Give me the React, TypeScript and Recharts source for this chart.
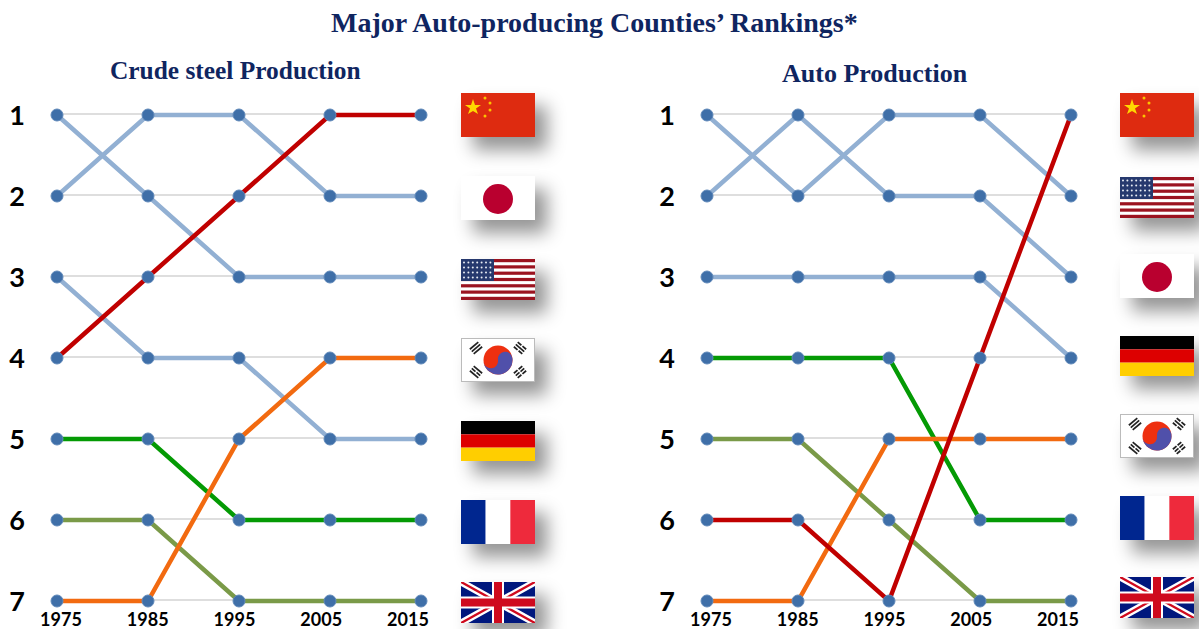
import { Line, LineChart, ReferenceLine, XAxis, YAxis } from 'recharts';

const years = ['1975', '1985', '1995', '2005', '2015'];
const rankTicks = [1, 2, 3, 4, 5, 6, 7];

const BLUE = '#92b0d3';
const RED = '#c00000';
const ORANGE = '#f26a10';
const GREEN = '#049a04';
const OLIVE = '#7a9a48';

// Crude steel ranks
const steelUsa = [1, 2, 3, 3, 3];
const steelJapan = [2, 1, 1, 2, 2];
const steelGermany = [3, 4, 4, 5, 5];
const steelChina = [4, 3, 2, 1, 1];
const steelFrance = [5, 5, 6, 6, 6];
const steelUk = [6, 6, 7, 7, 7];
const steelKorea = [7, 7, 5, 4, 4];

// Auto ranks
const autoUsa = [1, 2, 1, 1, 2];
const autoJapan = [2, 1, 2, 2, 3];
const autoGermany = [3, 3, 3, 3, 4];
const autoFrance = [4, 4, 4, 6, 6];
const autoUk = [5, 5, 6, 7, 7];
const autoChina = [6, 6, 7, 4, 1];
const autoKorea = [7, 7, 5, 5, 5];

const steelSeries = [
  { name: 'USA', ranks: steelUsa, color: BLUE },
  { name: 'Japan', ranks: steelJapan, color: BLUE },
  { name: 'Germany', ranks: steelGermany, color: BLUE },
  { name: 'France', ranks: steelFrance, color: GREEN },
  { name: 'UK', ranks: steelUk, color: OLIVE },
  { name: 'Korea', ranks: steelKorea, color: ORANGE },
  { name: 'China', ranks: steelChina, color: RED },
];

const autoSeries = [
  { name: 'USA', ranks: autoUsa, color: BLUE },
  { name: 'Japan', ranks: autoJapan, color: BLUE },
  { name: 'Germany', ranks: autoGermany, color: BLUE },
  { name: 'France', ranks: autoFrance, color: GREEN },
  { name: 'UK', ranks: autoUk, color: OLIVE },
  { name: 'Korea', ranks: autoKorea, color: ORANGE },
  { name: 'China', ranks: autoChina, color: RED },
];

const toRows = (series: typeof steelSeries) =>
  years.map((year, i) => {
    const row: Record<string, string | number> = { year };
    series.forEach((s) => {
      row[s.name] = s.ranks[i];
    });
    return row;
  });

const RankChart = ({ series, left }: { series: typeof steelSeries; left: number }) => (
  <div style={{ position: 'absolute', left, top: 0 }}>
    <LineChart width={441} height={629} data={toRows(series)} margin={{ top: 114, right: 20, bottom: 0, left: 0 }}>
      <YAxis
        yAxisId="rank"
        reversed
        type="number"
        domain={[1, 7]}
        ticks={rankTicks}
        interval={0}
        width={57}
        axisLine={false}
        tickLine={false}
        tickSize={0}
        tickMargin={32}
        padding={{ top: 1, bottom: 1 }}
        tick={{ fill: '#000', fontFamily: 'Lato', fontWeight: 700, fontSize: 27 }}
      />
      {/* grid rows sit a pixel above the markers in the original */}
      <YAxis
        yAxisId="grid"
        hide
        width={0}
        reversed
        type="number"
        domain={[1, 7]}
        ticks={rankTicks}
        padding={{ top: 0, bottom: 2 }}
      />
      <XAxis xAxisId="pts" dataKey="year" hide height={0} padding={{ left: 0, right: 0 }} />
      <XAxis
        xAxisId="labels"
        dataKey="year"
        height={27}
        axisLine={false}
        tickLine={false}
        tickSize={0}
        tickMargin={11}
        interval={0}
        padding={{ left: 4, right: 13 }}
        tick={{ fill: '#000', fontFamily: 'Lato', fontWeight: 700, fontSize: 18 }}
      />
      {/* keeps the grid axis live so its scale resolves */}
      <Line
        xAxisId="pts"
        yAxisId="grid"
        dataKey={series[0].name}
        stroke="none"
        dot={false}
        activeDot={false}
        isAnimationActive={false}
      />
      {rankTicks.map((r) => (
        <ReferenceLine key={r} xAxisId="pts" yAxisId="grid" y={r} stroke="#bdbdbd" strokeWidth={1} />
      ))}
      {series.map((s) => (
        <Line
          key={s.name}
          xAxisId="pts"
          yAxisId="rank"
          dataKey={s.name}
          stroke={s.color}
          strokeWidth={4.5}
          dot={false}
          activeDot={false}
          isAnimationActive={false}
        />
      ))}
      {series.map((s) => (
        <Line
          key={s.name + '-dots'}
          xAxisId="pts"
          yAxisId="rank"
          dataKey={s.name}
          stroke="none"
          dot={{ r: 6, fill: '#3f6fa8', stroke: '#5f88b9', strokeWidth: 1, fillOpacity: 1 }}
          activeDot={false}
          isAnimationActive={false}
        />
      ))}
    </LineChart>
  </div>
);

const China = () => (
  <svg viewBox="0 0 74 44" width="100%" height="100%" preserveAspectRatio="none" style={{ display: 'block' }}>
    <rect width="74" height="44" fill="#de2b10" />
    <polygon points="12,6 14,12 20,12 15,15.5 17,21 12,18 7,21 9,15.5 4,12 10,12" fill="#ffd800" />
    <circle cx="24" cy="5" r="1.5" fill="#fbc400" />
    <circle cx="29" cy="10" r="1.5" fill="#fbc400" />
    <circle cx="29" cy="17" r="1.5" fill="#fbc400" />
    <circle cx="24" cy="23" r="1.5" fill="#fbc400" />
  </svg>
);

const Japan = () => (
  <svg viewBox="0 0 74 44" width="100%" height="100%" preserveAspectRatio="none" style={{ display: 'block' }}>
    <rect width="74" height="44" fill="#fff" />
    <circle cx="37" cy="23" r="15" fill="#b9002f" />
  </svg>
);

const Usa = () => (
  <svg viewBox="0 0 74 41" width="100%" height="100%" preserveAspectRatio="none" style={{ display: 'block' }}>
    <rect width="74" height="41" fill="#fff" />
    {[0, 1, 2, 3, 4, 5, 6].map((i) => (
      <rect key={i} y={i * 6.3} width="74" height="3.2" fill="#9b1320" />
    ))}
    <rect width="33" height="22" fill="#26396e" />
    {[0, 1, 2, 3].map((r) =>
      [0, 1, 2, 3, 4, 5, 6].map((c) => (
        <circle key={r + '-' + c} cx={3 + c * 4.4} cy={3.5 + r * 5} r="1" fill="#e8ecf4" />
      )),
    )}
  </svg>
);

const Trigram = ({ x, y, angle, broken }: { x: number; y: number; angle: number; broken: boolean[] }) => (
  <g transform={`translate(${x} ${y}) rotate(${angle})`} stroke="#222" strokeWidth="1.7">
    {broken.map((b, i) => (
      <line key={i} x1={-5.5} x2={5.5} y1={(i - 1) * 3} y2={(i - 1) * 3} strokeDasharray={b ? '4.8 1.4' : undefined} />
    ))}
  </g>
);

const Korea = () => (
  <svg viewBox="0 0 74 44" width="100%" height="100%" preserveAspectRatio="none" style={{ display: 'block' }}>
    <rect x="0.5" y="0.5" width="73" height="43" fill="#fff" stroke="#bbb" strokeWidth="1" />
    <circle cx="37" cy="22" r="14.5" fill="#ee3010" />
    <path d="M22.6 24 A14.5 14.5 0 0 0 51.4 20 A7 7 0 0 0 37 22 A7 7 0 0 1 22.6 24 Z" fill="#5050aa" />
    <Trigram x={15} y={10} angle={-40} broken={[false, false, false]} />
    <Trigram x={59} y={10} angle={40} broken={[true, false, true]} />
    <Trigram x={15} y={34} angle={40} broken={[false, true, false]} />
    <Trigram x={59} y={34} angle={-40} broken={[true, true, true]} />
  </svg>
);

const Germany = () => (
  <svg viewBox="0 0 3 3" width="100%" height="100%" preserveAspectRatio="none" style={{ display: 'block' }}>
    <rect width="3" height="1" fill="#000" />
    <rect y="1" width="3" height="1" fill="#dd0000" />
    <rect y="2" width="3" height="1" fill="#ffce00" />
  </svg>
);

const France = () => (
  <svg viewBox="0 0 3 3" width="100%" height="100%" preserveAspectRatio="none" style={{ display: 'block' }}>
    <rect width="1" height="3" fill="#00268f" />
    <rect x="1" width="1" height="3" fill="#fff" />
    <rect x="2" width="1" height="3" fill="#ee2a3c" />
  </svg>
);

const Uk = () => (
  <svg viewBox="0 0 74 41" width="100%" height="100%" preserveAspectRatio="none" style={{ display: 'block' }}>
    <rect width="74" height="41" fill="#00177d" />
    <path d="M0 0 L74 41 M74 0 L0 41" stroke="#fff" strokeWidth="7" />
    <path d="M0 0 L74 41 M74 0 L0 41" stroke="#cf0a1e" strokeWidth="2.4" />
    <path d="M37 0 V41 M0 20.5 H74" stroke="#fff" strokeWidth="12" />
    <path d="M37 0 V41 M0 20.5 H74" stroke="#cf0a1e" strokeWidth="8" />
  </svg>
);

const Flag = ({ x, y, h, children }: { x: number; y: number; h: number; children: React.ReactNode }) => (
  <div
    style={{
      position: 'absolute',
      left: x,
      top: y,
      width: 74,
      height: h,
      boxShadow: '12px 13px 18px rgba(0,0,0,0.42)',
    }}
  >
    {children}
  </div>
);

const headingStyle: React.CSSProperties = {
  position: 'absolute',
  whiteSpace: 'nowrap',
  color: '#0f2560',
  fontFamily: '"Liberation Serif"',
  fontWeight: 700,
  lineHeight: 1,
};

export default function App() {
  return (
    <div style={{ position: 'absolute', left: 0, top: 0, width: 1199, height: 629, overflow: 'hidden', background: '#fff' }}>
      <div style={{ ...headingStyle, left: 331, top: 9, fontSize: 28 }}>Major Auto-producing Counties’ Rankings*</div>
      <div style={{ ...headingStyle, left: 110, top: 58, fontSize: 25.4 }}>Crude steel Production</div>
      <div style={{ ...headingStyle, left: 782, top: 61, fontSize: 26 }}>Auto Production</div>

      <Flag x={461} y={93} h={44}><China /></Flag>
      <Flag x={461} y={176} h={44}><Japan /></Flag>
      <Flag x={461} y={259} h={41}><Usa /></Flag>
      <Flag x={461} y={338} h={44}><Korea /></Flag>
      <Flag x={461} y={421} h={40}><Germany /></Flag>
      <Flag x={461} y={500} h={44}><France /></Flag>
      <Flag x={461} y={582} h={41}><Uk /></Flag>

      <Flag x={1120} y={93} h={44}><China /></Flag>
      <Flag x={1120} y={177} h={41}><Usa /></Flag>
      <Flag x={1120} y={254} h={44}><Japan /></Flag>
      <Flag x={1120} y={336} h={40}><Germany /></Flag>
      <Flag x={1120} y={414} h={44}><Korea /></Flag>
      <Flag x={1120} y={496} h={44}><France /></Flag>
      <Flag x={1120} y={577} h={41}><Uk /></Flag>

      <RankChart series={steelSeries} left={0} />
      <RankChart series={autoSeries} left={650} />
    </div>
  );
}
